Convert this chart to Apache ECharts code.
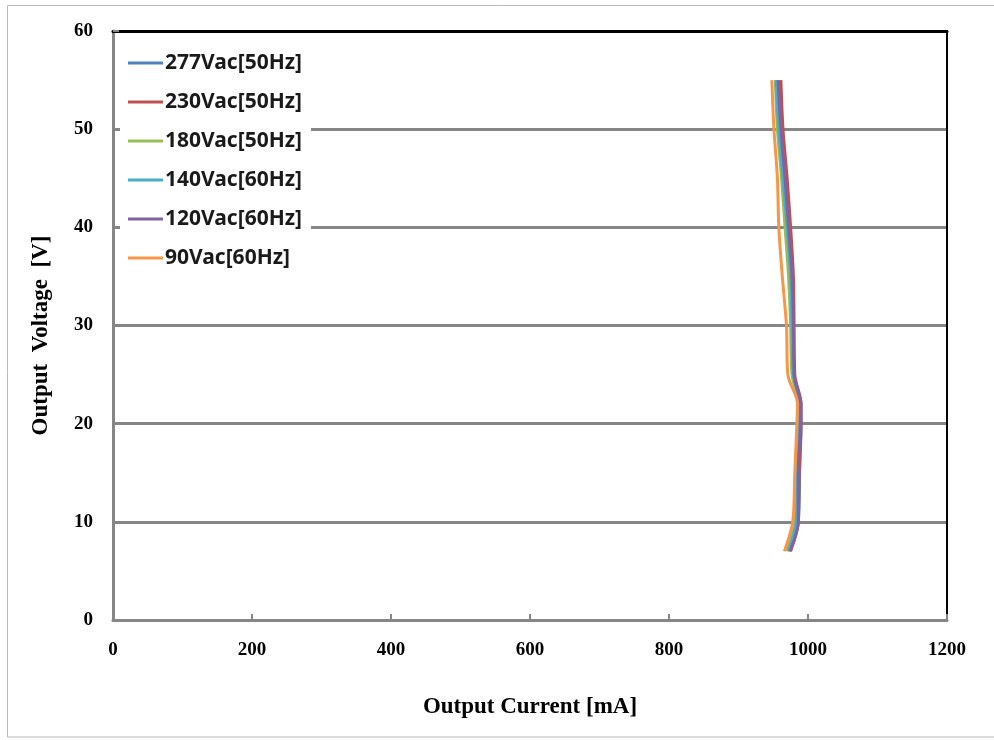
<!DOCTYPE html>
<html>
<head>
<meta charset="utf-8">
<script src="https://cdn.jsdelivr.net/npm/echarts@6/dist/echarts.min.js"></script>
<style>
html,body{margin:0;padding:0;background:#fff;}
#chart{width:994px;height:740px;}
</style>
</head>
<body>
<div id="chart"></div>
<script>
// Output voltage points (V)
const voltages = [55, 50, 45, 40, 35, 30, 25, 22, 20, 15, 10, 7];
// Output current (mA) per input condition
const seriesNames = ['277Vac[50Hz]', '230Vac[50Hz]', '180Vac[50Hz]', '140Vac[60Hz]', '120Vac[60Hz]', '90Vac[60Hz]'];
const cur277 = [958, 962, 968, 973, 978, 979, 980, 990, 990, 988, 986, 973];
const cur230 = [961, 964, 970, 975, 979, 980, 981, 990, 990, 987, 986, 975];
const cur180 = [953, 956, 962, 967, 972, 975, 977, 986, 986, 983, 980, 970];
const cur140 = [954, 958, 964, 970, 975, 977, 979, 988, 988, 985, 983, 972];
const cur120 = [957, 961, 967, 972, 977, 979, 980, 989, 989, 986, 986, 974];
const cur90  = [948, 951, 956, 958, 963, 969, 971, 985, 984, 981, 978, 966];
const currents = [cur277, cur230, cur180, cur140, cur120, cur90];
const colors = ['#4F81BD', '#C0504D', '#9BBB59', '#4BACC6', '#8064A2', '#F79646'];

const xTicks = { min: 0, max: 1200, interval: 200 };
const yTicks = { min: 0, max: 60, interval: 10 };

const chart = echarts.init(document.getElementById('chart'), null, { renderer: 'canvas' });

const serif = '"Liberation Serif", "Times New Roman", serif';

const series = seriesNames.map((name, i) => ({
  name: name,
  type: 'line',
  xAxisIndex: 0,
  yAxisIndex: 0,
  smooth: 0.3,
  symbol: 'none',
  lineStyle: { width: 3, color: colors[i] },
  itemStyle: { color: colors[i] },
  data: voltages.map((v, k) => [currents[i][k], v]),
  z: 3 + i
}));

chart.setOption({
  animation: false,
  backgroundColor: '#fff',
  color: colors,
  grid: { left: 113, right: 47, top: 31, bottom: 120, containLabel: false },
  graphic: [{
    type: 'rect',
    shape: { x: 7.5, y: 5.5, width: 995, height: 731.5 },
    style: { fill: 'none', stroke: '#b8b8b8', lineWidth: 1 },
    silent: true, z: -10
  }],
  legend: {
    orient: 'vertical',
    left: 120,
    top: 45,
    data: seriesNames,
    icon: 'rect',
    itemWidth: 35,
    itemHeight: 3,
    itemGap: 15,
    padding: [6, 9, 6, 8],
    backgroundColor: '#fff',
    textStyle: { fontFamily: '"Noto Sans", "Open Sans", sans-serif', fontWeight: 'bold', fontSize: 21, color: '#1a1a1a', padding: [0, 0, 0, -3], lineHeight: 24 }
  },
  xAxis: [{
    type: 'value',
    min: xTicks.min, max: xTicks.max, interval: xTicks.interval,
    name: 'Output Current [mA]',
    nameLocation: 'middle',
    nameGap: 76,
    nameTextStyle: { fontFamily: serif, fontWeight: 'bold', fontSize: 23, color: '#000' },
    axisLine: { show: true, onZero: false, lineStyle: { color: '#868686', width: 3 } },
    axisTick: { show: true, inside: true, length: 6, lineStyle: { color: '#868686', width: 2 } },
    axisLabel: { margin: 21, fontFamily: serif, fontWeight: 'bold', fontSize: 19, color: '#000', formatter: v => String(v) },
    splitLine: { show: false }
  }, {
    type: 'value', position: 'top',
    min: xTicks.min, max: xTicks.max,
    axisLine: { show: true, onZero: false, lineStyle: { color: '#000', width: 3 } },
    axisTick: { show: false }, axisLabel: { show: false }, splitLine: { show: false }
  }],
  yAxis: [{
    type: 'value',
    min: yTicks.min, max: yTicks.max, interval: yTicks.interval,
    name: 'Output  Voltage  [V]',
    nameLocation: 'middle',
    nameGap: 60,
    nameTextStyle: { fontFamily: serif, fontWeight: 'bold', fontSize: 23, color: '#000', padding: [0, 20, 0, 0] },
    axisLine: { show: true, onZero: false, lineStyle: { color: '#868686', width: 3 } },
    axisTick: { show: true, inside: true, length: 6, lineStyle: { color: '#868686', width: 2 } },
    axisLabel: { margin: 20, fontFamily: serif, fontWeight: 'bold', fontSize: 19, color: '#000', formatter: v => String(v) },
    splitLine: { show: true, lineStyle: { color: '#868686', width: 3 } }
  }, {
    type: 'value', position: 'right',
    min: yTicks.min, max: yTicks.max,
    axisLine: { show: true, onZero: false, lineStyle: { color: '#000', width: 2 } },
    axisTick: { show: false }, axisLabel: { show: false }, splitLine: { show: false }
  }],
  series: series
});
</script>
</body>
</html>
